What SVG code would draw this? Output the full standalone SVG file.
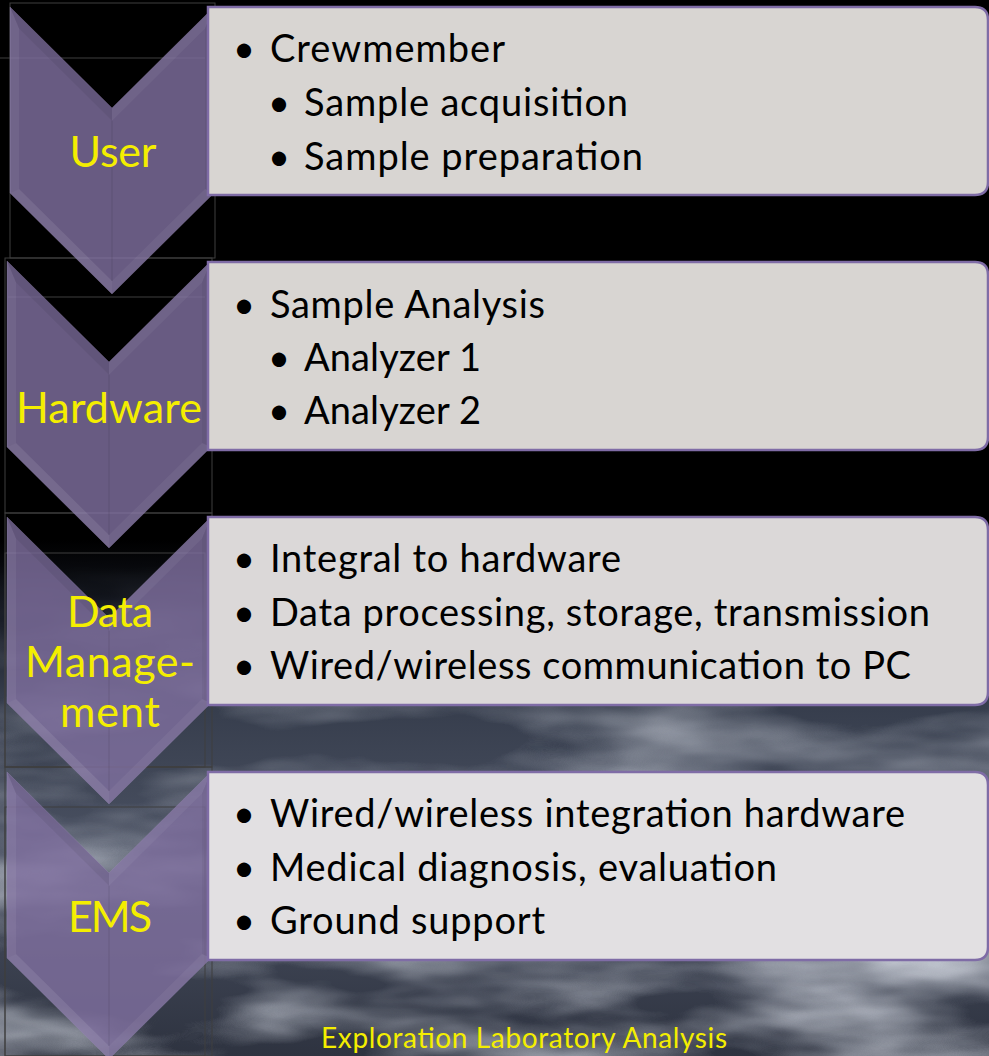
<svg xmlns="http://www.w3.org/2000/svg" xmlns:xlink="http://www.w3.org/1999/xlink" width="989" height="1056" viewBox="0 0 989 1056">
<style>
.lbl{font-family:Lato,"Noto Sans",sans-serif;font-size:43px;fill:#f4ee00;text-anchor:middle}
.body{font-family:Lato,"Noto Sans",sans-serif;font-size:38px;fill:#000}
.foot{font-family:Lato,"Noto Sans",sans-serif;font-size:28px;fill:#f4ee00}
.box{fill:#d8d5d2;stroke:#7f6ca6;stroke-width:2.5}
.grid{fill:none;stroke:#3e3e3e;stroke-width:1}
</style>
<defs>
<linearGradient id="sky" x1="0" y1="0" x2="0" y2="1">
<stop offset="0" stop-color="#000"/>
<stop offset="0.12" stop-color="#11141c"/>
<stop offset="0.3" stop-color="#353c4b"/>
<stop offset="0.6" stop-color="#4a5162"/>
<stop offset="1" stop-color="#2e3340"/>
</linearGradient>
<linearGradient id="fade" x1="0" y1="0" x2="0" y2="1">
<stop offset="0" stop-color="#fff" stop-opacity="0"/>
<stop offset="0.35" stop-color="#fff" stop-opacity="0.7"/>
<stop offset="1" stop-color="#fff" stop-opacity="1"/>
</linearGradient>
<mask id="cloudMask"><rect x="0" y="560" width="989" height="496" fill="url(#fade)"/></mask>
<filter id="clouds" x="0" y="0" width="100%" height="100%">
<feTurbulence type="fractalNoise" baseFrequency="0.004 0.014" numOctaves="4" seed="7"/>
<feColorMatrix type="matrix" values="0 0 0 0 0.62  0 0 0 0 0.65  0 0 0 0 0.72  1.9 0 0 0 -0.75"/>
</filter>
<g id="chev">
<polygon points="0,0 102,101 204,0 204,186 102,287 0,186" fill="#7f6f9f" fill-opacity="0.82"/>
<polygon points="0,0 102,101 102,113.7 9,21.6" fill="#000" fill-opacity="0.06"/>
<polygon points="204,0 102,101 102,113.7 195,21.6" fill="#fff" fill-opacity="0.05"/>
<polygon points="0,0 9,21.6 9,182 0,186" fill="#fff" fill-opacity="0.06"/>
<polygon points="204,0 195,21.6 195,182 204,186" fill="#000" fill-opacity="0.04"/>
<polygon points="0,186 9,182 102,274 102,287" fill="#fff" fill-opacity="0.09"/>
<polygon points="204,186 195,182 102,274 102,287" fill="#fff" fill-opacity="0.05"/>
<line x1="102" y1="113.7" x2="102" y2="274" stroke="#000" stroke-opacity="0.07" stroke-width="1.5"/>
<polygon points="0,0 102,101 204,0 204,186 102,287 0,186" fill="none" stroke="#9a8cba" stroke-opacity="0.3" stroke-width="1"/>
</g>
</defs>

<g id="background">
<rect x="0" y="0" width="989" height="1056" fill="#000"/>
<rect x="0" y="540" width="989" height="516" fill="url(#sky)"/>
<rect x="0" y="560" width="989" height="496" filter="url(#clouds)" mask="url(#cloudMask)"/>
<rect class="grid" x="10" y="3" width="205" height="255"/>
<line class="grid" x1="0" y1="58" x2="205" y2="58"/>
<rect class="grid" x="5" y="258" width="207" height="255"/>
<line class="grid" x1="8" y1="297" x2="205" y2="297"/>
<rect class="grid" x="5" y="513" width="207" height="254"/>
<rect class="grid" x="5" y="553" width="200" height="214"/>
<rect class="grid" x="5" y="767" width="207" height="289"/>
<rect class="grid" x="5" y="807" width="200" height="249"/>
</g>

<g id="stage-user">
<use xlink:href="#chev" x="10" y="7"/>
<text class="lbl" x="113" y="167" textLength="87">User</text>
</g>
<g id="stage-hardware">
<use xlink:href="#chev" x="7" y="261"/>
<text class="lbl" x="109" y="423" textLength="186">Hardware</text>
</g>
<g id="stage-data">
<use xlink:href="#chev" x="7" y="517"/>
<text class="lbl" x="110" y="627" textLength="86">Data</text>
<text class="lbl" x="110" y="677" textLength="170">Manage-</text>
<text class="lbl" x="110" y="727" textLength="100">ment</text>
</g>
<g id="stage-ems">
<use xlink:href="#chev" x="7" y="772"/>
<text class="lbl" x="110" y="932" textLength="84">EMS</text>
</g>

<g id="box-user">
<path class="box" d="M208,7 H975 Q988,7 988,20 V182 Q988,195 975,195 H208 Z"/>
<text class="body" x="233" y="62">•</text><text class="body" x="270" y="62" textLength="235">Crewmember</text>
<text class="body" x="268" y="116">•</text><text class="body" x="304" y="116" textLength="324">Sample acquisition</text>
<text class="body" x="268" y="170">•</text><text class="body" x="304" y="170" textLength="339">Sample preparation</text>
</g>
<g id="box-hardware">
<path class="box" d="M208,262 H975 Q988,262 988,275 V437 Q988,450 975,450 H208 Z"/>
<text class="body" x="233" y="318">•</text><text class="body" x="270" y="318" textLength="275">Sample Analysis</text>
<text class="body" x="268" y="371">•</text><text class="body" x="304" y="371" textLength="177">Analyzer 1</text>
<text class="body" x="268" y="424">•</text><text class="body" x="304" y="424" textLength="177">Analyzer 2</text>
</g>
<g id="box-data">
<path class="box" d="M208,517 H975 Q988,517 988,530 V692 Q988,705 975,705 H208 Z" style="fill:#dbd8d8"/>
<text class="body" x="233" y="572">•</text><text class="body" x="270" y="572" textLength="351">Integral to hardware</text>
<text class="body" x="233" y="626">•</text><text class="body" x="270" y="626" textLength="660">Data processing, storage, transmission</text>
<text class="body" x="233" y="679">•</text><text class="body" x="270" y="679" textLength="641">Wired/wireless communication to PC</text>
</g>
<g id="box-ems">
<path class="box" d="M208,772 H975 Q988,772 988,785 V947 Q988,960 975,960 H208 Z" style="fill:#e2e0e2"/>
<text class="body" x="233" y="827">•</text><text class="body" x="270" y="827" textLength="635">Wired/wireless integration hardware</text>
<text class="body" x="233" y="881">•</text><text class="body" x="270" y="881" textLength="507">Medical diagnosis, evaluation</text>
<text class="body" x="233" y="934">•</text><text class="body" x="270" y="934" textLength="275">Ground support</text>
</g>

<g id="footer">
<text class="foot" x="321" y="1048" textLength="406">Exploration Laboratory Analysis</text>
</g>
</svg>
